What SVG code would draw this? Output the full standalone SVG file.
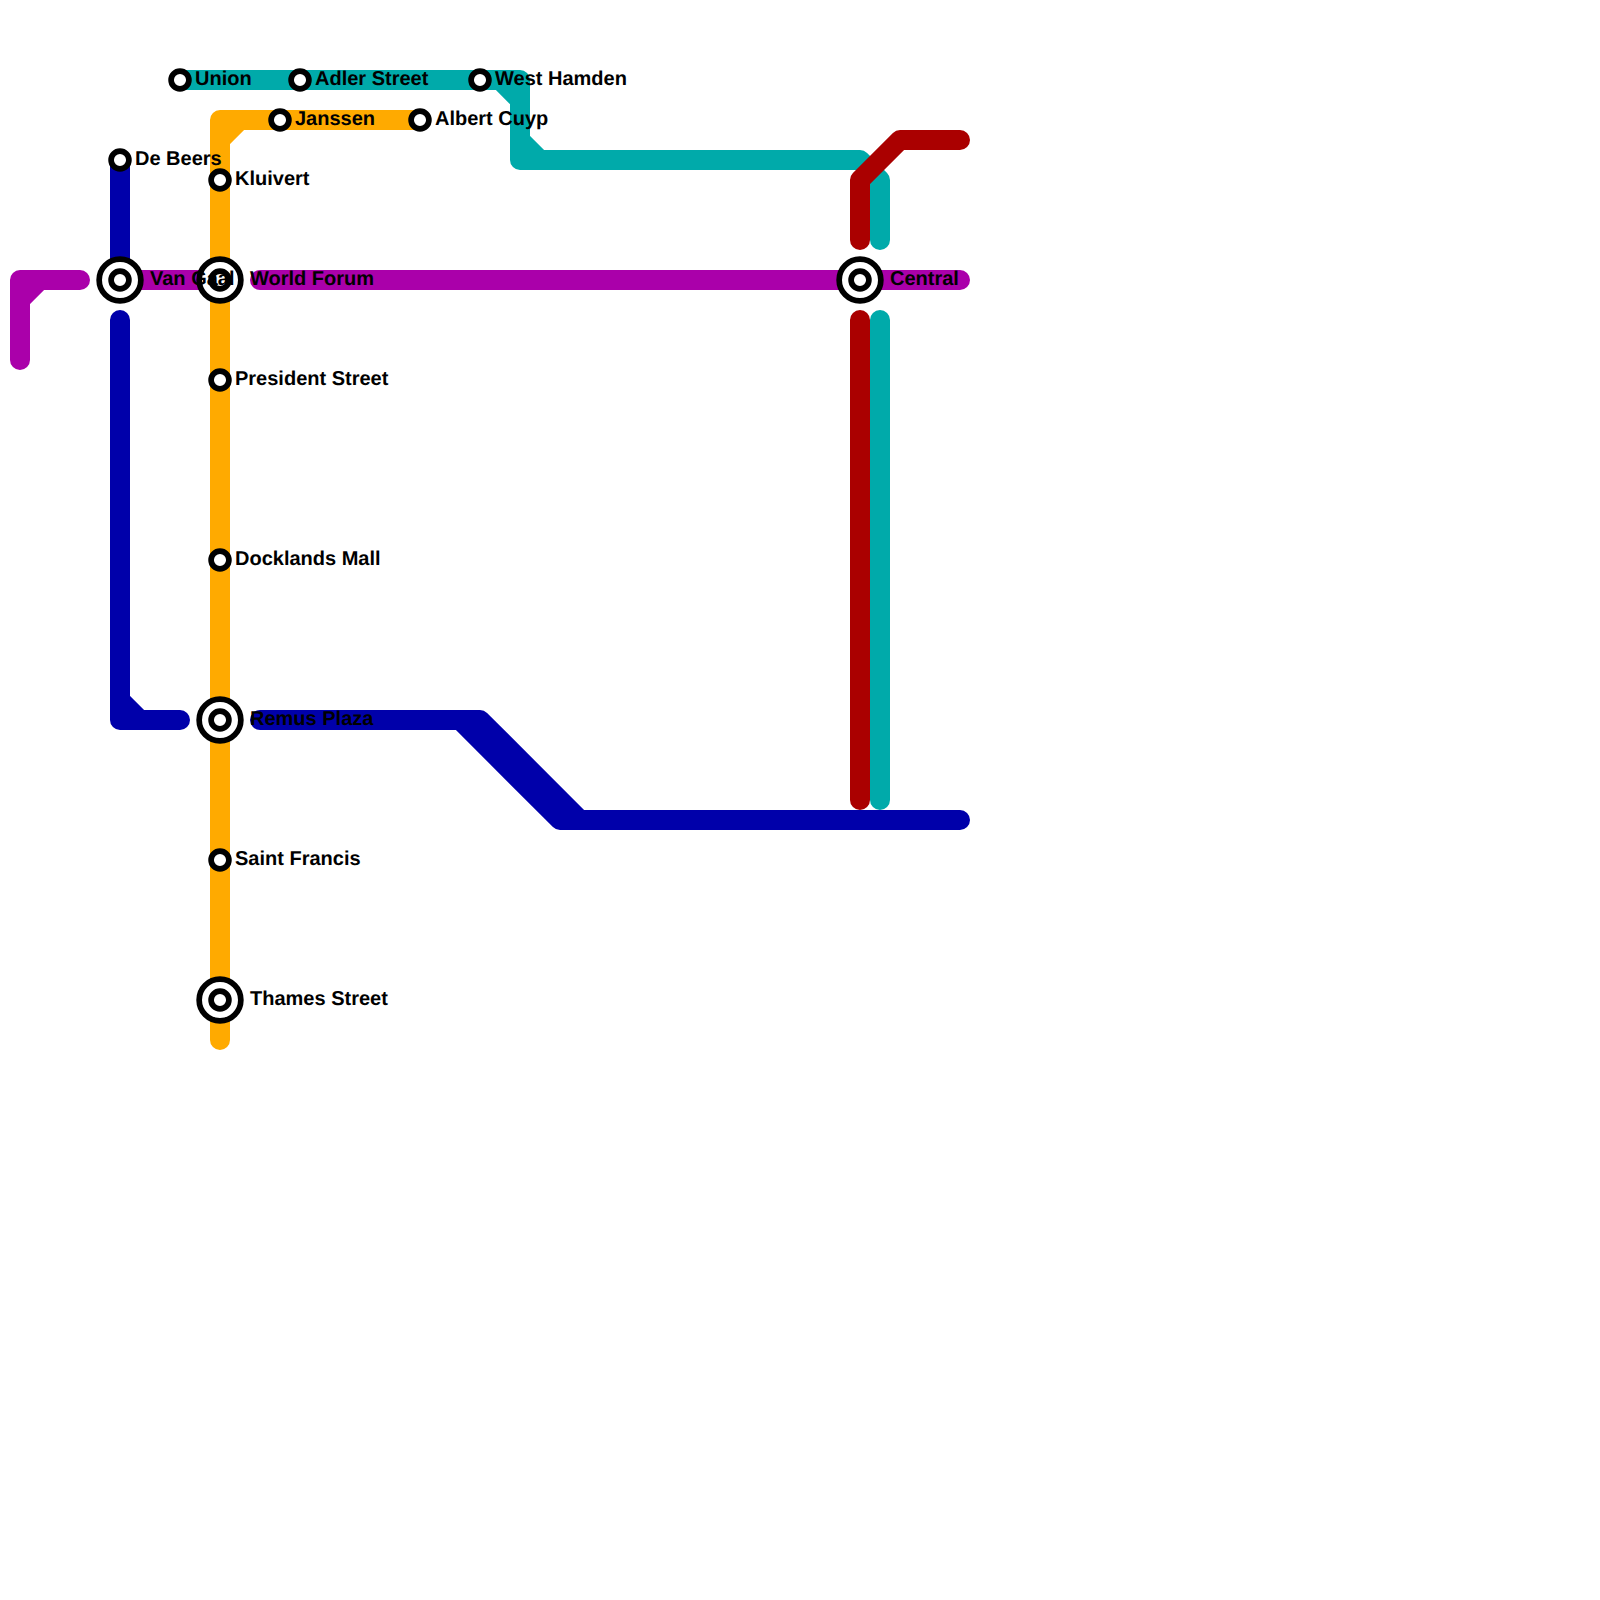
<svg xmlns="http://www.w3.org/2000/svg" width="1600" height="1600" viewBox="0 0 1600 1600">
<style>
.l{fill:none;stroke-width:20;stroke-linecap:round;stroke-linejoin:round}
.s{fill:#fff;stroke:#000;stroke-width:5.7}
text{font-family:"Liberation Sans",Arial,sans-serif;font-weight:bold;font-size:20px;fill:#000;text-rendering:geometricPrecision}
</style>
<rect width="1600" height="1600" fill="#fff"/>
<g id="connectors">
<path class="l" stroke="#a0a" d="M20 360V280H80M20 300L40 280M120 280H220M260 280H960"/>
<path class="l" stroke="#0aa" d="M180 80H520V160H860L880 180V240M500 80L520 100M520 140L540 160M880 320V800"/>
<path class="l" stroke="#a00" d="M860 240V180L900 140H960M860 320V800"/>
<path class="l" stroke="#00a" d="M120 160V280M120 320V720H180M120 700L140 720M260 720H480L580 820M460 720L560 820H960"/>
<path class="l" stroke="#fa0" d="M220 1040V120H420M220 140L240 120"/>
</g>
<g id="st-union"><circle class="s" cx="180" cy="80" r="8.9"/><text x="195" y="85">Union</text></g>
<g id="st-adler"><circle class="s" cx="300" cy="80" r="8.9"/><text x="315" y="85">Adler Street</text></g>
<g id="st-west-hamden"><circle class="s" cx="480" cy="80" r="8.9"/><text x="495" y="85">West Hamden</text></g>
<g id="st-janssen"><circle class="s" cx="280" cy="120" r="8.9"/><text x="295" y="125">Janssen</text></g>
<g id="st-albert-cuyp"><circle class="s" cx="420" cy="120" r="8.9"/><text x="435" y="125">Albert Cuyp</text></g>
<g id="st-de-beers"><circle class="s" cx="120" cy="160" r="8.9"/><text x="135" y="165">De Beers</text></g>
<g id="st-kluivert"><circle class="s" cx="220" cy="180" r="8.9"/><text x="235" y="185">Kluivert</text></g>
<g id="st-world-forum"><circle class="s" cx="220" cy="280" r="20.85"/><circle class="s" cx="220" cy="280" r="8.9"/><text x="250" y="285">World Forum</text></g>
<g id="st-van-gaal"><circle class="s" cx="120" cy="280" r="20.85"/><circle class="s" cx="120" cy="280" r="8.9"/><text x="150" y="285">Van Gaal</text></g>
<g id="st-central"><circle class="s" cx="860" cy="280" r="20.85"/><circle class="s" cx="860" cy="280" r="8.9"/><text x="890" y="285">Central</text></g>
<g id="st-president"><circle class="s" cx="220" cy="380" r="8.9"/><text x="235" y="385">President Street</text></g>
<g id="st-docklands"><circle class="s" cx="220" cy="560" r="8.9"/><text x="235" y="565">Docklands Mall</text></g>
<g id="st-remus"><circle class="s" cx="220" cy="720" r="20.85"/><circle class="s" cx="220" cy="720" r="8.9"/><text x="250" y="725">Remus Plaza</text></g>
<g id="st-saint-francis"><circle class="s" cx="220" cy="860" r="8.9"/><text x="235" y="865">Saint Francis</text></g>
<g id="st-thames"><circle class="s" cx="220" cy="1000" r="20.85"/><circle class="s" cx="220" cy="1000" r="8.9"/><text x="250" y="1005">Thames Street</text></g>
</svg>
